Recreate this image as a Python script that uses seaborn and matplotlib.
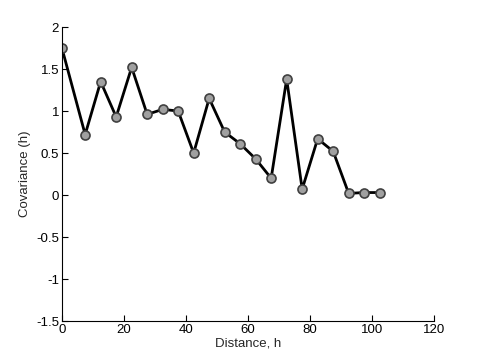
import matplotlib
matplotlib.use("Agg")
import matplotlib.pyplot as plt
import seaborn as sns
import pandas as pd

distance = [0, 7.5, 12.5, 17.5, 22.5, 27.5, 32.5, 37.5, 42.5, 47.5, 52.5,
            57.5, 62.5, 67.5, 72.5, 77.5, 82.5, 87.5, 92.5, 97.5, 102.5]
covariance = [1.75, 0.72, 1.35, 0.93, 1.52, 0.96, 1.02, 1.00, 0.50, 1.15, 0.75,
              0.61, 0.43, 0.20, 1.38, 0.07, 0.67, 0.52, 0.02, 0.03, 0.03]
x_ticks = [0, 20, 40, 60, 80, 100, 120]
y_ticks = [-1.5, -1, -0.5, 0, 0.5, 1, 1.5, 2]

sns.set_style("ticks")
plt.rcParams['font.family'] = ['Liberation Sans', 'DejaVu Sans']

df = pd.DataFrame({"Distance": distance, "Covariance": covariance})

fig = plt.figure(figsize=(4.8, 3.6), dpi=100)
ax = fig.add_axes([0.129, 0.108, 0.775, 0.817])
sns.lineplot(data=df, x="Distance", y="Covariance", ax=ax, color="black",
             linewidth=2, marker="o", markersize=6.5,
             markerfacecolor="#a0a0a0", markeredgecolor="#404040",
             markeredgewidth=1.2)
ax.set_xlim(0, 120)
ax.set_ylim(-1.5, 2)
ax.set_xticks(x_ticks)
ax.set_xticklabels([str(t) for t in x_ticks])
ax.set_yticks(y_ticks)
ax.set_yticklabels(["-1.5", "-1", "-0.5", "0", "0.5", "1", "1.5", "2"])
ax.tick_params(direction="in", length=4, width=0.8, labelsize=9.5, pad=2, colors="black")
for s in ["top", "right"]:
    ax.spines[s].set_visible(False)
for s in ["left", "bottom"]:
    ax.spines[s].set_linewidth(0.8)
    ax.spines[s].set_color("black")
ax.set_xlabel("Distance, h", fontsize=9.5, labelpad=1)
ax.set_ylabel("Covariance (h)", fontsize=9.5, labelpad=4)
fig.savefig("out.png", dpi=100)
